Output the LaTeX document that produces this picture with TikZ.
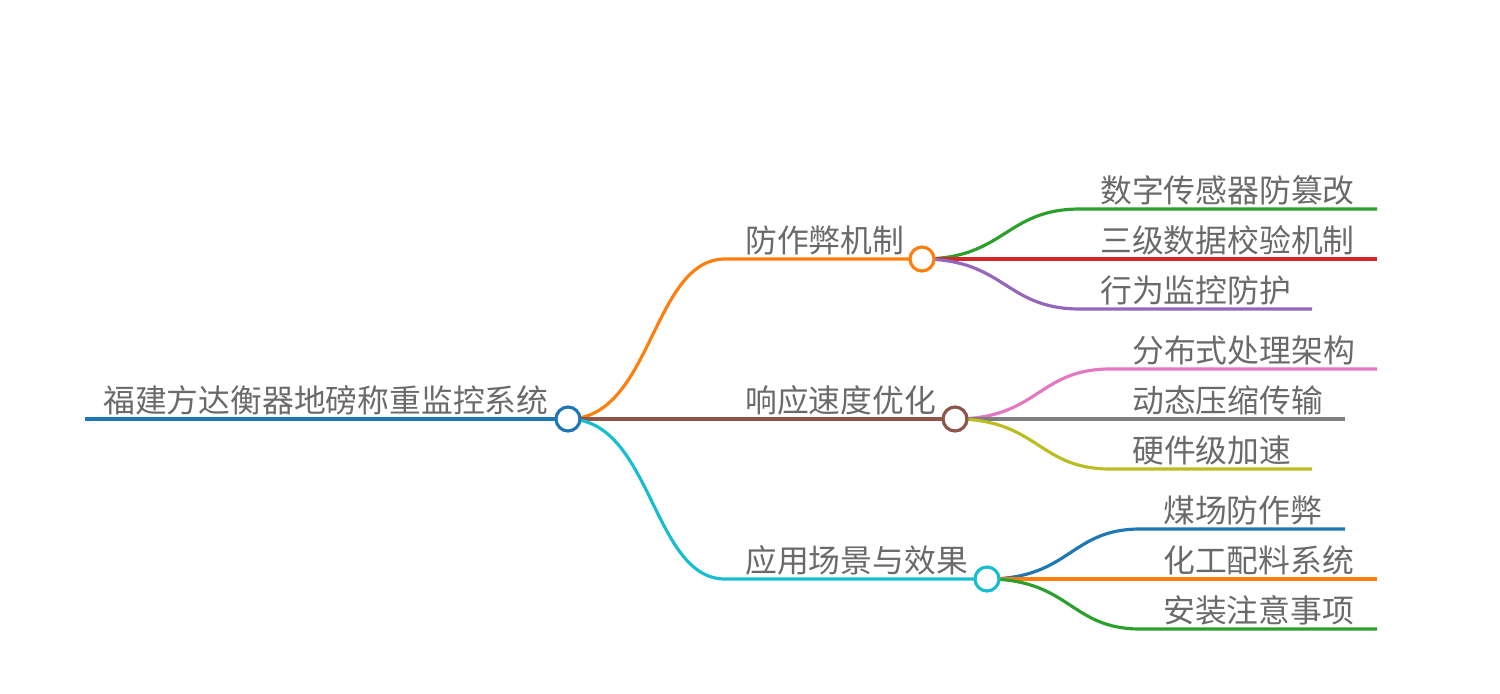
\documentclass[tikz,border=0pt]{standalone}
\usepackage{fontspec}
\setmainfont{Noto Sans CJK SC}
\definecolor{cRoot}{HTML}{1F77B4}
\definecolor{cOrange}{HTML}{FF7F0E}
\definecolor{cBrown}{HTML}{8C564B}
\definecolor{cCyan}{HTML}{17BECF}
\definecolor{cGreen}{HTML}{2CA02C}
\definecolor{cRed}{HTML}{D62728}
\definecolor{cPurple}{HTML}{9467BD}
\definecolor{cPink}{HTML}{E377C2}
\definecolor{cGray}{HTML}{7F7F7F}
\definecolor{cOlive}{HTML}{BCBD22}
\definecolor{cText}{HTML}{6A6A6A}
\begin{document}
\begin{tikzpicture}[x=0.02cm,y=-0.02cm,
  lbl/.style={anchor=base west,inner sep=0pt,text=cText,font=\fontsize{18.1pt}{20pt}\selectfont},
  edge/.style={line width=1.8pt},
  rootedge/.style={line width=2.2pt},
  knot/.style={circle,draw,fill=white,line width=1.8pt,minimum size=0.48cm,inner sep=0pt}]
\useasboundingbox (0,0) rectangle (1500,693);
% coordinates
\coordinate (r0) at (85,419);
\coordinate (b1m) at (725,259);
\coordinate (b3m) at (725,579);
% root
\draw[rootedge,cRoot] (r0) -- (568,419);
\node[lbl] (rt) at (103,412) {福建方达衡器地磅称重监控系统};
% branch 1
\draw[edge,cOrange] (568,419) .. controls (652,419) and (652,259) .. (b1m) -- (922,259);
\node[lbl] (t1) at (745,252) {防作弊机制};
% branch 2
\draw[edge,cBrown] (568,419) -- (955,419);
\node[lbl] (t2) at (745,412) {响应速度优化};
% branch 3
\draw[edge,cCyan] (568,419) .. controls (652,419) and (652,579) .. (b3m) -- (987,579);
\node[lbl] (t3) at (745,572) {应用场景与效果};
% children of branch 1
\coordinate (c11m) at (1080,209); \coordinate (c11e) at (1377,209);
\coordinate (c12e) at (1377,259);
\coordinate (c13m) at (1080,309); \coordinate (c13e) at (1312,309);
\draw[edge,cGreen] (922,259) .. controls (1005,259) and (1005,209) .. (c11m) -- (c11e);
\draw[edge,cRed] (922,259) -- (c12e);
\draw[edge,cPurple] (922,259) .. controls (1005,259) and (1005,309) .. (c13m) -- (c13e);
\node[lbl] (t11) at (1100,202) {数字传感器防篡改};
\node[lbl] (t12) at (1100,252) {三级数据校验机制};
\node[lbl] (t13) at (1100,302) {行为监控防护};
% children of branch 2
\coordinate (c21m) at (1110,369); \coordinate (c21e) at (1377,369);
\coordinate (c22e) at (1345,419);
\coordinate (c23m) at (1110,469); \coordinate (c23e) at (1312,469);
\draw[edge,cPink] (955,419) .. controls (1038,419) and (1038,369) .. (c21m) -- (c21e);
\draw[edge,cGray] (955,419) -- (c22e);
\draw[edge,cOlive] (955,419) .. controls (1038,419) and (1038,469) .. (c23m) -- (c23e);
\node[lbl] (t21) at (1132,362) {分布式处理架构};
\node[lbl] (t22) at (1132,412) {动态压缩传输};
\node[lbl] (t23) at (1132,462) {硬件级加速};
% children of branch 3
\coordinate (c31m) at (1140,529); \coordinate (c31e) at (1345,529);
\coordinate (c32e) at (1377,579);
\coordinate (c33m) at (1140,629); \coordinate (c33e) at (1377,629);
\draw[edge,cRoot] (987,579) .. controls (1070,579) and (1070,529) .. (c31m) -- (c31e);
\draw[edge,cOrange] (987,579) -- (c32e);
\draw[edge,cGreen] (987,579) .. controls (1070,579) and (1070,629) .. (c33m) -- (c33e);
\node[lbl] (t31) at (1163,522) {煤场防作弊};
\node[lbl] (t32) at (1163,572) {化工配料系统};
\node[lbl] (t33) at (1163,622) {安装注意事项};
% knots
\node[knot,draw=cRoot] (root) at (568,419) {};
\node[knot,draw=cOrange] (k1) at (922,259) {};
\node[knot,draw=cBrown] (k2) at (955,419) {};
\node[knot,draw=cCyan] (k3) at (987,579) {};
\end{tikzpicture}
\end{document}
